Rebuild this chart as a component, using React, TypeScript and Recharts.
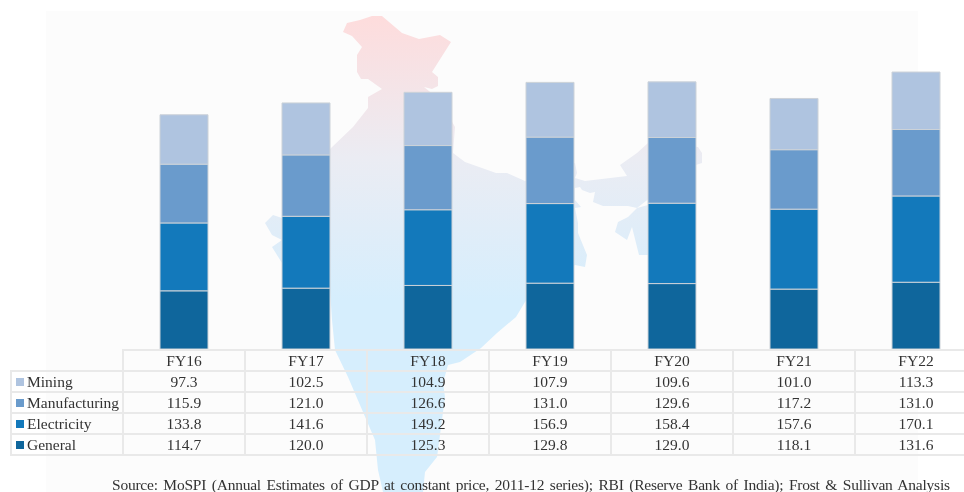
import { BarChart, Bar, XAxis, YAxis } from "recharts";

const years = ["FY16", "FY17", "FY18", "FY19", "FY20", "FY21", "FY22"];
const mining = [97.3, 102.5, 104.9, 107.9, 109.6, 101.0, 113.3];
const manufacturing = [115.9, 121.0, 126.6, 131.0, 129.6, 117.2, 131.0];
const electricity = [133.8, 141.6, 149.2, 156.9, 158.4, 157.6, 170.1];
const general = [114.7, 120.0, 125.3, 129.8, 129.0, 118.1, 131.6];

const data = years.map((year, i) => ({
  year,
  general: general[i],
  electricity: electricity[i],
  manufacturing: manufacturing[i],
  mining: mining[i],
}));

const rows = [
  { name: "Mining", values: mining, color: "#afc4e0" },
  { name: "Manufacturing", values: manufacturing, color: "#6a9bcc" },
  { name: "Electricity", values: electricity, color: "#1379bb" },
  { name: "General", values: general, color: "#0f669c" },
];

const serif = "'Liberation Serif', serif";
const barStroke = "#ccd2d8";
const gridLine = "2px solid #e9e9e9";

// backdrop map, only decoration behind the bars
const mapMain =
  "343,32 347,23 360,20 372,16 382,16 402,33 419,39 440,35 451,42 432,72 438,77 438,86 432,89 424,87 440,100 455,127 453,153 465,162 496,173 507,173 525,181 575,163 577,173 575,178 585,181 627,176 620,165 637,153 648,143 698,147 702,153 702,163 680,170 660,190 637,208 628,206 603,206 593,202 595,192 590,193 582,190 580,187 575,188 575,200 581,207 575,208 578,223 578,233 587,255 585,267 575,265 540,285 525,302 516,317 497,333 481,348 460,362 448,365 443,383 445,397 438,450 437,457 425,472 423,492 383,492 378,470 375,440 348,377 335,350 332,320 330,290 300,275 282,263 272,247 282,240 272,235 265,223 273,215 282,218 300,195 331,148 353,127 368,108 368,97 382,89 368,79 361,79 357,72 357,55 362,47 352,36";
const mapEast = "648,205 637,208 628,217 618,222 615,232 627,240 632,227 639,255 648,255 665,225";

export default function App() {
  return (
    <div style={{ position: "absolute", left: 0, top: 0, width: 964, height: 492, overflow: "hidden", background: "#fff", filter: "blur(0.5px)" }}>
      <svg width={964} height={492} style={{ position: "absolute", left: 0, top: 0 }}>
        <defs>
          <linearGradient id="mapFill" gradientUnits="userSpaceOnUse" x1="0" y1="15" x2="0" y2="300">
            <stop offset="0%" stopColor="#fedcdc" />
            <stop offset="50%" stopColor="#ebecf3" />
            <stop offset="100%" stopColor="#d6eefd" />
          </linearGradient>
        </defs>
        <rect x={46} y={11} width={872} height={481} fill="#fcfcfc" />
        <polygon points={mapMain} fill="url(#mapFill)" />
        <polygon points={mapEast} fill="url(#mapFill)" />
      </svg>

      <div style={{ position: "absolute", left: 0, top: 0 }}>
        <BarChart
          width={980}
          height={492}
          data={data}
          barSize={48}
          margin={{ top: 0, right: 3, bottom: 143, left: 123 }}
        >
          <XAxis dataKey="year" hide />
          <YAxis hide domain={[0, 688]} />
          <Bar dataKey="general" stackId="a" fill="#0f669c" stroke={barStroke} isAnimationActive={false} />
          <Bar dataKey="electricity" stackId="a" fill="#1379bb" stroke={barStroke} isAnimationActive={false} />
          <Bar dataKey="manufacturing" stackId="a" fill="#6a9bcc" stroke={barStroke} isAnimationActive={false} />
          <Bar dataKey="mining" stackId="a" fill="#afc4e0" stroke={barStroke} isAnimationActive={false} />
        </BarChart>
      </div>

      <table
        style={{
          position: "absolute",
          left: 10,
          top: 349,
          borderCollapse: "collapse",
          tableLayout: "fixed",
          width: 966,
          fontFamily: serif,
          fontSize: 15.5,
          color: "#333",
        }}
      >
        <colgroup>
          <col style={{ width: 112 }} />
          {years.map((y) => (
            <col key={y} style={{ width: 122 }} />
          ))}
        </colgroup>
        <tbody>
          <tr style={{ height: 21 }}>
            <td style={{ border: "none", borderBottom: gridLine, padding: 0 }} />
            {years.map((y) => (
              <td key={y} style={{ border: gridLine, padding: 0, textAlign: "center", lineHeight: "17px" }}>
                {y}
              </td>
            ))}
          </tr>
          {rows.map((row) => (
            <tr key={row.name} style={{ height: 21 }}>
              <td style={{ border: gridLine, padding: 0, whiteSpace: "nowrap", lineHeight: "17px" }}>
                <span style={{ display: "inline-block", width: 8, height: 8, background: row.color, margin: "0 3px 0 4px", verticalAlign: "1px" }} />
                <span>{row.name}</span>
              </td>
              {row.values.map((v, i) => (
                <td key={years[i]} style={{ border: gridLine, padding: 0, textAlign: "center", lineHeight: "17px" }}>
                  {v.toFixed(1)}
                </td>
              ))}
            </tr>
          ))}
        </tbody>
      </table>

      <svg width={964} height={492} style={{ position: "absolute", left: 0, top: 0 }}>
        <text x={112} y={490} fontFamily={serif} fontSize={15.5} fill="#333" textLength={838} lengthAdjust="spacing" wordSpacing={2}>
          Source: MoSPI (Annual Estimates of GDP at constant price, 2011-12 series); RBI (Reserve Bank of India); Frost &amp; Sullivan Analysis
        </text>
      </svg>
    </div>
  );
}
